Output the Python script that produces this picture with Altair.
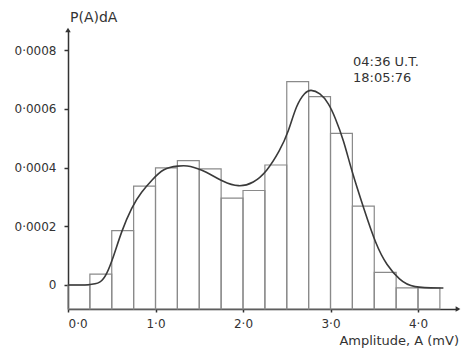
import altair as alt
import pandas as pd

# Histogram bins (lower edge, mV) and heights P(A)dA
bin_lo = [0.0, 0.25, 0.5, 0.75, 1.0, 1.25, 1.5, 1.75, 2.0, 2.25, 2.5, 2.75, 3.0, 3.25, 3.5, 3.75, 4.0]
bin_h = [0.0, 0.000037, 0.000185, 0.000337, 0.000399, 0.000424, 0.000396, 0.000296, 0.000322,
         0.000409, 0.000693, 0.000642, 0.000517, 0.000269, 0.000043, -0.00001, -0.00001]
bin_w = 0.25

# Smooth fitted curve
curve_x = [0.0, 0.25, 0.37, 0.44, 0.52, 0.61, 0.73, 0.84, 0.96, 1.09, 1.26, 1.39, 1.58, 1.77,
           1.95, 2.12, 2.27, 2.42, 2.52, 2.61, 2.71, 2.77, 2.88, 2.98, 3.05, 3.15, 3.24, 3.38,
           3.52, 3.64, 3.79, 3.93, 4.29]
curve_y = [0.0, 0.0, 0.000006, 0.000034, 0.000096, 0.000182, 0.000267, 0.000318, 0.000358,
           0.000398, 0.000406, 0.000408, 0.000386, 0.000352, 0.000333, 0.000347, 0.000386,
           0.000457, 0.000522, 0.000615, 0.000657, 0.000667, 0.000655, 0.000619, 0.000573,
           0.000494, 0.000390, 0.000261, 0.000136, 0.000068, 0.000017, -0.00001, -0.00001]

x_ticks = [0, 1, 2, 3, 4]
y_ticks = [0, 0.0002, 0.0004, 0.0006, 0.0008]

X_MIN, X_MAX = 0.0, 4.457
Y_MIN, Y_MAX = -0.0000818, 0.000869

FONT = "DejaVu Sans"

bars = pd.DataFrame({
    "x0": bin_lo,
    "x1": [b + bin_w for b in bin_lo],
    "h": bin_h,
    "base": [Y_MIN] * len(bin_lo),
})
curve = pd.DataFrame({"x0": curve_x, "h": curve_y})

xs = alt.Scale(domain=[X_MIN, X_MAX], nice=False, zero=False)
ys = alt.Scale(domain=[Y_MIN, Y_MAX], nice=False, zero=False)

x_axis = alt.Axis(
    values=x_ticks, labelExpr="replace(format(datum.value, '.1f'), '.', '·')",
    title=None, grid=False, tickSize=3, labelPadding=6, labelFont=FONT, labelFontSize=12,
    labelColor="#333", domainColor="#333", tickColor="#333", domainWidth=1.5, tickWidth=1.5,
)
y_axis = alt.Axis(
    values=y_ticks,
    labelExpr="datum.value == 0 ? '0' : replace(format(datum.value, '.4f'), '.', '·')",
    title=None, grid=False, tickSize=4, labelPadding=8, labelFont=FONT, labelFontSize=12,
    labelColor="#333", domainColor="#333", tickColor="#333", domainWidth=1.5, tickWidth=1.5,
)

X = alt.X("x0:Q", scale=xs, axis=x_axis)
Y = alt.Y("h:Q", scale=ys, axis=y_axis)

rects = alt.Chart(bars).mark_rect(fill=None, stroke="#8a8a8a", strokeWidth=1.2).encode(
    x=X, x2="x1:Q", y=Y, y2="base:Q",
)

line = alt.Chart(curve).mark_line(color="#3a3a3a", strokeWidth=1.6, interpolate="basis").encode(
    x=X, y=Y,
)

arrows = alt.Chart(pd.DataFrame({
    "x0": [0.0, X_MAX], "h": [Y_MAX, Y_MIN], "shape": ["triangle-up", "triangle-right"]
})).mark_point(filled=True, color="#333", size=30, opacity=1).encode(
    x=X, y=Y,
    shape=alt.Shape("shape:N", scale=None, legend=None),
)

ylab = alt.Chart(pd.DataFrame({"t": ["P(A)dA"]})).mark_text(
    font=FONT, fontSize=14, color="#333", align="left", baseline="middle"
).encode(text="t:N", x=alt.value(2), y=alt.value(-12))

xlab = alt.Chart(pd.DataFrame({"t": ["Amplitude, A (mV)"]})).mark_text(
    font=FONT, fontSize=13, color="#333", align="right", baseline="middle"
).encode(text="t:N", x=alt.value(391), y=alt.value(311))

note = alt.Chart(pd.DataFrame({"t": ["04:36 U.T.", "18:05:76"], "dy": [32, 48]})).mark_text(
    font=FONT, fontSize=13, color="#333", align="left", baseline="middle"
).encode(text="t:N", x=alt.value(285), y=alt.Y("dy:Q", scale=None, axis=None))

chart = alt.layer(rects, line, arrows, ylab, xlab, note).properties(
    width=390, height=279,
    autosize=alt.AutoSizeParams(type="none"),
    padding={"left": 68, "top": 30, "right": 5, "bottom": 41},
    background="white",
).configure_view(stroke=None)

chart.save("out.html", embed_options={"renderer": "svg", "actions": False})
